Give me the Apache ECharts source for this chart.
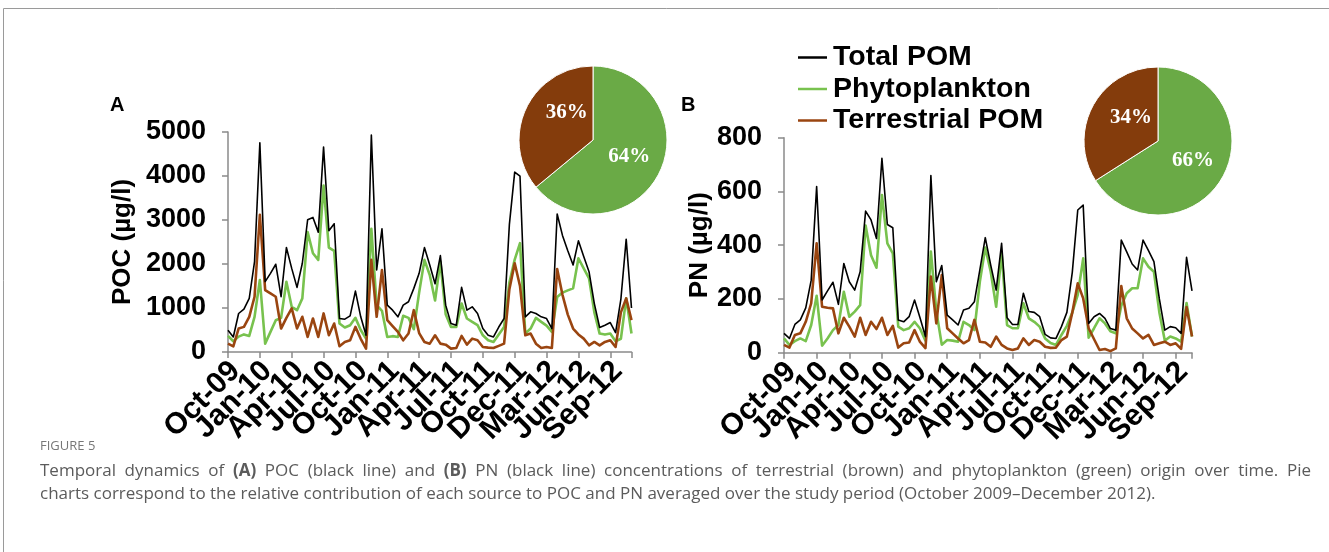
<!DOCTYPE html>
<html>
<head>
<meta charset="utf-8">
<title>POC and PN temporal dynamics</title>
<script src="https://cdn.jsdelivr.net/npm/echarts@6/dist/echarts.min.js"></script>
<style>
  html, body { margin: 0; padding: 0; background: #ffffff; }
  #wrap { position: relative; width: 1329px; height: 552px; overflow: hidden; }
  #chart { position: absolute; left: 0; top: 0; width: 1329px; height: 552px; }
  #caption { position: absolute; left: 40px; top: 437px; width: 1271px;
    font-family: 'Open Sans', 'Noto Sans', sans-serif; color: #5b5b5b; }
  #caption .fig { font-size: 13px; line-height: 16px; color: #777777; }
  #caption .line { font-size: 17px; line-height: 23px; white-space: nowrap; }
  #caption .first { margin-top: 4.5px; text-align: justify; text-align-last: justify; white-space: normal; }
  #caption b { font-weight: bold; }
</style>
</head>
<body>
<div id="wrap">
  <div id="chart"></div>
  <div id="caption">
    <div class="fig">FIGURE 5</div>
    <div class="line first">Temporal dynamics of <b>(A)</b> POC (black line) and <b>(B)</b> PN (black line) concentrations of terrestrial (brown) and phytoplankton (green) origin over time. Pie</div>
    <div class="line">charts correspond to the relative contribution of each source to POC and PN averaged over the study period (October 2009–December 2012).</div>
  </div>
</div>
<script>
// Sampling-date tick labels, one every sixth sample
const tickLabels = ['Oct-09', 'Jan-10', 'Apr-10', 'Jul-10', 'Oct-10', 'Jan-11', 'Apr-11',
  'Jul-11', 'Oct-11', 'Dec-11', 'Mar-12', 'Jun-12', 'Sep-12'];
const labelEvery = 6;

// (A) POC, µg/l
const pocTotal = [495, 342, 875, 974, 1218, 2055, 4756, 1598, 1788, 1994,
  1256, 2374, 1900, 1469, 2017, 3006, 3059, 2724, 4657, 2755,
  2915, 761, 746, 822, 1385, 800, 380, 4931, 1864, 2800,
  1065, 951, 799, 1065, 1141, 1446, 1788, 2374, 1978, 1550,
  2192, 1065, 647, 609, 1469, 951, 1027, 875, 533, 380,
  342, 568, 761, 2900, 4087, 3995, 799, 913, 875, 799,
  761, 533, 3135, 2650, 2300, 1978, 2526, 2169, 1826, 1100,
  556, 609, 670, 441, 1200, 2564, 1000];
const pocPhyto = [365, 244, 350, 400, 365, 799, 1636, 190, 457, 723,
  776, 1598, 1027, 950, 1218, 2724, 2245, 2093, 3782, 2374,
  2298, 647, 556, 609, 776, 500, 304, 2800, 1064, 935,
  340, 360, 342, 822, 776, 517, 1350, 2093, 1750, 1170,
  2055, 860, 570, 571, 1103, 761, 685, 609, 380, 266,
  228, 400, 571, 1580, 2100, 2474, 419, 533, 776, 685,
  600, 457, 1250, 1350, 1400, 1446, 2131, 1900, 1674, 900,
  419, 396, 419, 243, 300, 1218, 420];
const pocTerr = [190, 129, 533, 571, 799, 1256, 3120, 1408, 1332, 1256,
  533, 776, 990, 534, 800, 342, 762, 342, 877, 381,
  648, 130, 228, 266, 571, 300, 78, 2094, 800, 1865,
  724, 590, 457, 266, 419, 951, 430, 228, 190, 380,
  190, 167, 76, 91, 365, 167, 304, 266, 114, 100,
  91, 140, 190, 1427, 2018, 1500, 380, 419, 190, 91,
  114, 91, 1887, 1300, 850, 533, 400, 304, 152, 228,
  152, 230, 266, 114, 900, 1218, 724];

// (B) PN, µg/l
const pnTotal = [72, 53, 105, 122, 167, 270, 618, 196, 230, 262,
  180, 332, 264, 233, 301, 527, 494, 425, 723, 477,
  465, 122, 115, 134, 196, 130, 60, 659, 264, 324,
  140, 122, 103, 159, 165, 190, 308, 428, 326, 233,
  407, 130, 105, 105, 221, 153, 150, 134, 68, 55,
  53, 97, 150, 300, 531, 549, 109, 134, 146, 128,
  90, 84, 419, 375, 330, 308, 419, 380, 339, 200,
  84, 97, 93, 72, 355, 230];
const pnPhyto = [53, 29, 43, 53, 43, 103, 212, 26, 53, 84,
  103, 227, 134, 153, 177, 473, 363, 316, 587, 407,
  370, 97, 84, 91, 115, 90, 45, 376, 155, 30,
  47, 45, 41, 115, 103, 84, 264, 391, 301, 171,
  370, 103, 91, 91, 184, 128, 115, 97, 53, 36,
  29, 66, 100, 150, 215, 351, 56, 91, 128, 109,
  80, 72, 175, 221, 240, 240, 351, 320, 301, 150,
  45, 60, 53, 41, 185, 60];
const pnTerr = [29, 19, 66, 72, 115, 184, 407, 171, 167, 165,
  72, 130, 97, 60, 130, 66, 115, 88, 130, 66,
  100, 19, 35, 38, 84, 40, 17, 283, 109, 289,
  91, 72, 53, 35, 47, 122, 41, 38, 22, 60,
  29, 16, 10, 16, 53, 29, 47, 41, 22, 18,
  19, 47, 60, 150, 258, 202, 91, 50, 10, 14,
  6, 16, 248, 128, 90, 72, 53, 66, 29, 35,
  41, 29, 35, 14, 170, 60];

// Average source contribution, %
const pocShares = [64, 36]; // phytoplankton, terrestrial
const pnShares = [66, 34];

const seriesNames = ['Total POM', 'Phytoplankton', 'Terrestrial POM'];
const lineColors = ['#000000', '#78c24e', '#9a4510'];
const pieColors = ['#6aaa46', '#843c0c'];

const sampleIds = arr => arr.map((_, i) => String(i + 1));

const FONT = "'Liberation Sans', Arial, sans-serif";
const axisGrey = '#8a8a8a';

function xAxisFor(gridIndex, ids) {
  return {
    type: 'category', gridIndex, data: ids, boundaryGap: false,
    axisLine: { lineStyle: { color: axisGrey, width: 1.5 } },
    axisTick: { show: true, interval: labelEvery - 1, length: 6, lineStyle: { color: axisGrey, width: 1.5 } },
    axisLabel: {
      interval: 0, rotate: 45, margin: 7, hideOverlap: false,
      color: '#000', fontFamily: FONT, fontWeight: 'bold', fontSize: 30,
      lineHeight: 21, verticalAlign: 'top',
      formatter: (v, idx) => (idx % labelEvery === 0 ? (tickLabels[idx / labelEvery] || '') : '')
    },
    splitLine: { show: false }
  };
}

function yAxisFor(gridIndex, max, interval, name, nameGap) {
  return {
    type: 'value', gridIndex, min: 0, max, interval,
    name, nameLocation: 'middle', nameGap, nameRotate: 90,
    nameTextStyle: { color: '#000', fontFamily: FONT, fontWeight: 'bold', fontSize: 26 },
    axisLine: { show: true, lineStyle: { color: axisGrey, width: 1.5 } },
    axisTick: { show: true, length: 6, lineStyle: { color: axisGrey, width: 1.5 } },
    axisLabel: {
      margin: 22, color: '#000', fontFamily: FONT, fontWeight: 'bold', fontSize: 27,
      formatter: v => String(v)
    },
    splitLine: { show: false }
  };
}

function lineSeries(name, data, axisIndex, color, width) {
  return {
    type: 'line', name, data, xAxisIndex: axisIndex, yAxisIndex: axisIndex,
    symbol: 'none', smooth: false, animation: false,
    lineStyle: { color, width, join: 'round' }, itemStyle: { color },
    z: name === 'Total POM' ? 3 : 2
  };
}

function pieSeries(shares, center, labelNames, terrOffset) {
  return {
    type: 'pie', center, radius: 74, startAngle: 90, clockwise: true,
    animation: false, silent: true,
    itemStyle: { borderColor: '#ffffff', borderWidth: 1 },
    label: {
      position: 'inside', color: '#ffffff', fontFamily: "'Liberation Serif', 'Times New Roman', serif",
      fontWeight: 'bold', fontSize: 21, formatter: p => p.value + '%'
    },
    labelLine: { show: false },
    data: shares.map((v, i) => ({
      value: v, name: labelNames[i], itemStyle: { color: pieColors[i] },
      label: i === 1 ? { offset: terrOffset } : {}
    })),
    z: 5
  };
}

const chart = echarts.init(document.getElementById('chart'), null, { renderer: 'canvas' });

chart.setOption({
  backgroundColor: 'transparent',
  animation: false,
  grid: [
    { left: 228, top: 132, width: 403.5, height: 220 },
    { left: 784, top: 137.7, width: 408, height: 215 }
  ],
  xAxis: [xAxisFor(0, sampleIds(pocTotal)), xAxisFor(1, sampleIds(pnTotal))],
  yAxis: [yAxisFor(0, 5000, 1000, 'POC (µg/l)', 92), yAxisFor(1, 800, 200, 'PN (µg/l)', 69)],
  legend: {
    data: seriesNames, orient: 'vertical', left: 793, top: 38, itemGap: 2.5,
    icon: 'rect', itemWidth: 29, itemHeight: 2.5,
    textStyle: { color: '#000', fontFamily: FONT, fontWeight: 'bold', fontSize: 28.5, lineHeight: 28, padding: [0, 0, 0, 1] },
    selectedMode: false
  },
  series: [
    lineSeries(seriesNames[1], pocPhyto, 0, lineColors[1], 2.6),
    lineSeries(seriesNames[2], pocTerr, 0, lineColors[2], 2.6),
    lineSeries(seriesNames[0], pocTotal, 0, lineColors[0], 1.6),
    lineSeries(seriesNames[1], pnPhyto, 1, lineColors[1], 2.6),
    lineSeries(seriesNames[2], pnTerr, 1, lineColors[2], 2.6),
    lineSeries(seriesNames[0], pnTotal, 1, lineColors[0], 1.6),
    pieSeries(pocShares, [593, 140], ['POC phytoplankton', 'POC terrestrial'], [10, -10]),
    pieSeries(pnShares, [1158, 141], ['PN phytoplankton', 'PN terrestrial'], [8, -4])
  ],
  graphic: [
    { type: 'rect', shape: { x: 3.5, y: 8.5, width: 1400, height: 700 }, style: { fill: 'none', stroke: '#9a9a9a', lineWidth: 1 }, silent: true },
    { type: 'text', left: 110, top: 95, style: { text: 'A', font: "bold 20px 'Liberation Sans', Arial, sans-serif", fill: '#000' } },
    { type: 'text', left: 681, top: 95, style: { text: 'B', font: "bold 20px 'Liberation Sans', Arial, sans-serif", fill: '#000' } }
  ]
});
</script>
</body>
</html>
